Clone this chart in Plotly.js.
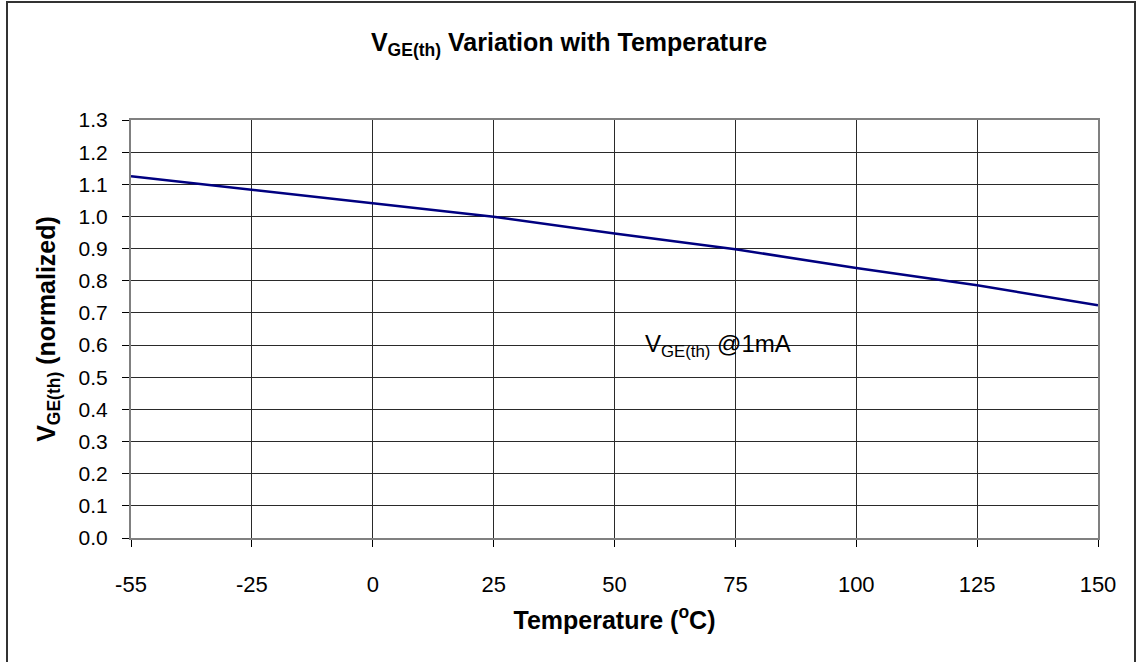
<!DOCTYPE html>
<html>
<head>
<meta charset="utf-8">
<script src="https://cdn.plot.ly/plotly-3.0.1.min.js"></script>
<style>
  html, body { margin: 0; padding: 0; background: #fff; }
  #wrap { position: relative; width: 1138px; height: 662px; overflow: hidden; }
  #chart { position: absolute; left: 0; top: 0; width: 1138px; height: 662px; }
  #frame { position: absolute; left: 6px; top: 1px; width: 1130px; height: 700px;
           border: 2px solid #333; box-sizing: border-box; pointer-events: none; }
</style>
</head>
<body>
<div id="wrap">
  <div id="chart"></div>
  <div id="frame"></div>
</div>
<script>
// Data
const temperatures = ['-55', '-25', '0', '25', '50', '75', '100', '125', '150'];
const vgeNormalized = [1.125, 1.083, 1.039, 0.999, 0.947, 0.898, 0.840, 0.786, 0.724];
const yTickValues = [0, 0.1, 0.2, 0.3, 0.4, 0.5, 0.6, 0.7, 0.8, 0.9, 1.0, 1.1, 1.2, 1.3];

const FONT = 'Liberation Sans, Arial, sans-serif';

const trace = {
  type: 'scatter',
  mode: 'lines',
  x: temperatures,
  y: vgeNormalized,
  line: { color: '#000080', width: 2.5 },
  hoverinfo: 'x+y',
  showlegend: false
};

const layout = {
  width: 1138,
  height: 662,
  paper_bgcolor: '#ffffff',
  plot_bgcolor: '#ffffff',
  margin: { l: 131, r: 40, t: 120, b: 124, pad: 0 },
  font: { family: FONT, color: '#000000', size: 21 },
  title: {
    text: '<b>V<sub>GE(th)</sub> Variation with Temperature</b>',
    font: { family: FONT, size: 25, color: '#000' },
    x: 0.5, xanchor: 'center', xref: 'container',
    y: 1 - 42 / 662, yanchor: 'middle', yref: 'container'
  },
  xaxis: {
    type: 'category',
    range: [0, 8],
    tickvals: temperatures,
    ticktext: temperatures,
    ticks: 'outside', ticklen: 7, tickwidth: 1, tickcolor: '#000',
    tickfont: { family: FONT, size: 22, color: '#000' },
    ticklabelstandoff: 19,
    showgrid: true, gridcolor: '#2a2a2a', gridwidth: 1,
    showline: true, mirror: true, linecolor: '#808080', linewidth: 2,
    zeroline: false,
    title: {
      text: '<b>Temperature (<sup>o</sup>C)</b>',
      font: { family: FONT, size: 25, color: '#000' },
      standoff: 15
    }
  },
  yaxis: {
    range: [0, 1.3],
    tickvals: yTickValues,
    tickformat: '.1f',
    ticks: 'outside', ticklen: 7, tickwidth: 1, tickcolor: '#000',
    tickfont: { family: FONT, size: 21, color: '#000' },
    ticklabelstandoff: 10,
    showgrid: true, gridcolor: '#2a2a2a', gridwidth: 1,
    showline: true, mirror: true, linecolor: '#808080', linewidth: 2,
    zeroline: false,
    title: {
      text: '<b>V<sub>GE(th)</sub> (normalized)</b>',
      font: { family: FONT, size: 25, color: '#000' },
      standoff: 16
    }
  },
  annotations: [{
    xref: 'x', yref: 'y',
    x: 4.234, y: 0.6,
    xanchor: 'left', yanchor: 'middle',
    text: 'V<sub>GE(th)</sub> @1mA',
    showarrow: false,
    font: { family: FONT, size: 24, color: '#000' }
  }]
};

Plotly.newPlot('chart', [trace], layout, { displayModeBar: false, staticPlot: true });
</script>
</body>
</html>
